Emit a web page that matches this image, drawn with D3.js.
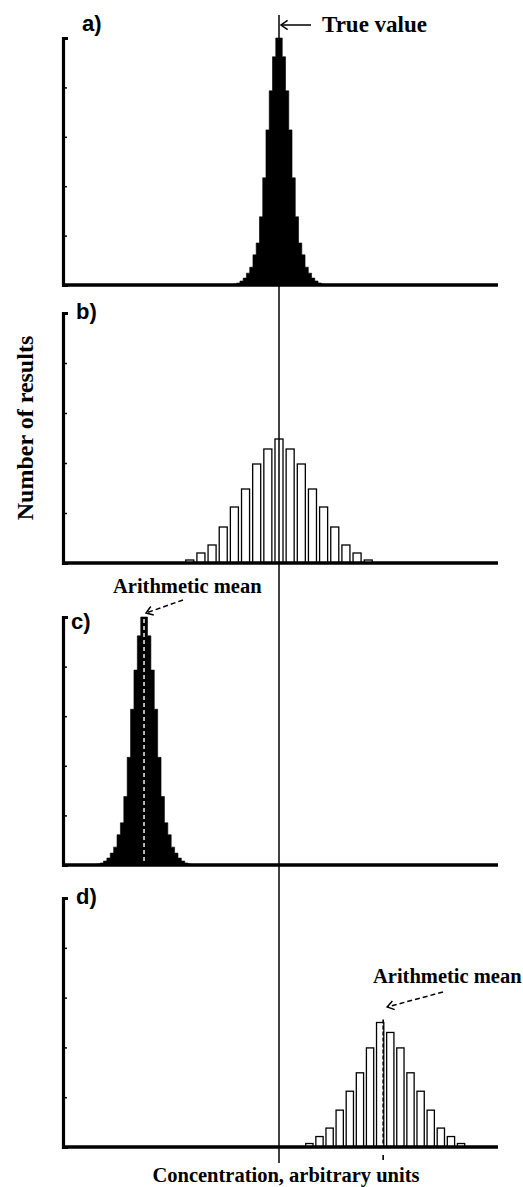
<!DOCTYPE html>
<html>
<head>
<meta charset="utf-8">
<title>Number of results vs concentration</title>
<script src="https://cdn.jsdelivr.net/npm/d3@7"></script>
<style>
body{margin:0;background:#fff;}
svg{display:block;}
</style>
</head>
<body>
<div id="chart"></div>
<script>
// concentration in arbitrary units, counts on a 0-50 scale
var trueValue = 50;

// a) narrow, centred on the true value
var aStart = 39.5, aBin = 0.75;
var aCounts = [0.2,0.4,0.8,1.4,2.4,3.6,6.1,8.5,13.8,21.7,31.4,39.3,46.2,50,
               50,46.2,39.3,31.4,21.7,13.8,8.5,6.1,3.6,2.4,1.4,0.8,0.4,0.2];

// b) wide, centred on the true value
var bStart = 29.44, bBin = 2.57;
var bCounts = [0.6,2,3.6,7.2,11.2,14.8,19.8,22.8,24.8,22.8,19.8,14.8,11.2,7.2,3.6,2,0.6];

// c) narrow, shifted low
var cStart = 8.0, cBin = 0.78, cMean = 18.9;
var cCounts = [0.2,0.4,0.8,1.4,2.4,3.6,6.1,8.5,13.8,21.7,31.4,39.3,46.2,50,
               50,46.2,39.3,31.4,21.7,13.8,8.5,6.1,3.6,2.4,1.4,0.8,0.4,0.2];

// d) wide, shifted high
var dStart = 57.0, dBin = 2.33, dMean = 74.0;
var dCounts = [0.7,2.1,3.8,7.4,11.2,14.9,19.9,25,23,19.9,14.9,11.2,7.4,3.8,2.1,0.7];

var yTicks = [10,20,30,40];
var panelLabels = ['a)','b)','c)','d)'];

var W = 523, H = 1187;
var svg = d3.select('#chart').append('svg')
  .attr('width', W)
  .attr('height', H);

var x = d3.scaleLinear().domain([0,100]).range([62,496]);

var panels = [
  {label:panelLabels[0], top:38,  base:285,  kind:'solid',   start:aStart, bin:aBin, counts:aCounts, lx:82, ly:31},
  {label:panelLabels[1], top:313, base:563,  kind:'outline', start:bStart, bin:bBin, counts:bCounts, lx:76, ly:319},
  {label:panelLabels[2], top:617, base:865,  kind:'solid',   start:cStart, bin:cBin, counts:cCounts, lx:71, ly:629, mean:cMean},
  {label:panelLabels[3], top:898, base:1147, kind:'outline', start:dStart, bin:dBin, counts:dCounts, lx:76, ly:904, mean:dMean}
];

panels.forEach(function(p){
  var y = d3.scaleLinear().domain([0,50]).range([p.base, p.top]);
  var g = svg.append('g');
  var binPx = x(p.bin) - x(0);

  if (p.kind === 'solid') {
    // touching bins drawn as one stepped black area
    var edges = p.counts.map(function(d,i){ return [p.start + i*p.bin, d]; });
    edges.push([p.start + p.counts.length*p.bin, p.counts[p.counts.length-1]]);
    var area = d3.area()
      .x(function(d){ return x(d[0]); })
      .y0(p.base)
      .y1(function(d){ return y(d[1]); })
      .curve(d3.curveStepAfter);
    g.append('path')
      .datum(edges)
      .attr('d', area)
      .attr('fill','#000')
      .attr('stroke','#000')
      .attr('stroke-width',0.6);
  } else {
    // separate open bars, start = centre of first bar
    var bw = binPx*0.72;
    g.selectAll('rect.bin')
      .data(p.counts)
      .enter()
      .append('rect')
      .attr('class','bin')
      .attr('x', function(d,i){ return x(p.start + i*p.bin) - bw/2; })
      .attr('y', function(d){ return y(d); })
      .attr('width', bw)
      .attr('height', function(d){ return p.base - y(d); })
      .attr('fill','#fff')
      .attr('stroke','#000')
      .attr('stroke-width',1.3);
  }

  // y axis: thick line, small inward ticks
  var yAxis = g.append('g')
    .attr('transform','translate(63,0)')
    .call(d3.axisRight(y).tickValues(yTicks).tickSize(4).tickSizeOuter(5).tickFormat(''));
  yAxis.select('.domain').attr('stroke','#000').attr('stroke-width',3.2);
  yAxis.selectAll('.tick line').attr('stroke','#000').attr('stroke-width',1.5);

  // baseline
  var xAxis = g.append('g')
    .attr('transform','translate(0,' + p.base + ')')
    .call(d3.axisBottom(x).tickValues([]).tickSizeOuter(0));
  xAxis.select('.domain').attr('stroke','#000').attr('stroke-width',3.5)
    .attr('d','M62,0H498');

  g.append('text')
    .attr('x', p.lx)
    .attr('y', p.ly)
    .attr('font-family','"Liberation Sans", Arial, sans-serif')
    .attr('font-weight','bold')
    .attr('font-size',22)
    .text(p.label);

  p.y = y;
});

// mean markers
var pc = panels[2], pd = panels[3];
svg.append('line')
  .attr('x1', x(cMean)).attr('x2', x(cMean))
  .attr('y1', pc.top + 2).attr('y2', pc.base - 2)
  .attr('stroke','#fff').attr('stroke-width',1.4)
  .attr('stroke-dasharray','4,3');

svg.append('line')
  .attr('x1', x(dMean)).attr('x2', x(dMean))
  .attr('y1', pd.y(25) - 3).attr('y2', pd.base)
  .attr('stroke','#000').attr('stroke-width',1.6)
  .attr('stroke-dasharray','4,2');
svg.append('line')
  .attr('x1', x(dMean)).attr('x2', x(dMean))
  .attr('y1', pd.base + 8).attr('y2', pd.base + 13)
  .attr('stroke','#000').attr('stroke-width',1.6);

// true value line through every panel
svg.append('line')
  .attr('x1', x(trueValue)).attr('x2', x(trueValue))
  .attr('y1', 15).attr('y2', 1163)
  .attr('stroke','#000').attr('stroke-width',1.5);

function arrow(x1, y1, x2, y2, dashed) {
  // line from (x1,y1) to tip (x2,y2) with an open head
  var ang = Math.atan2(y1 - y2, x1 - x2);
  var L = 8, s = 0.6;
  svg.append('line')
    .attr('x1',x1).attr('y1',y1).attr('x2',x2).attr('y2',y2)
    .attr('stroke','#000').attr('stroke-width',1.5)
    .attr('stroke-dasharray', dashed ? '5,3' : null);
  var p1 = [x2 + L*Math.cos(ang+s), y2 + L*Math.sin(ang+s)];
  var p2 = [x2 + L*Math.cos(ang-s), y2 + L*Math.sin(ang-s)];
  svg.append('path')
    .attr('d','M' + p1 + 'L' + [x2,y2] + 'L' + p2)
    .attr('fill','none').attr('stroke','#000').attr('stroke-width',1.5);
}

var serif = '"Liberation Serif", "Times New Roman", serif';

arrow(311, 25, x(trueValue) + 2, 25, false);
svg.append('text')
  .attr('x',322).attr('y',32)
  .attr('font-family',serif).attr('font-weight','bold').attr('font-size',23)
  .text('True value');

arrow(183, 600, x(cMean) + 2, 613, true);
svg.append('text')
  .attr('x',113).attr('y',593)
  .attr('font-family',serif).attr('font-weight','bold').attr('font-size',20.5)
  .text('Arithmetic mean');

arrow(443, 992, x(dMean) + 4, 1007, true);
svg.append('text')
  .attr('x',373).attr('y',983)
  .attr('font-family',serif).attr('font-weight','bold').attr('font-size',20.5)
  .text('Arithmetic mean');

svg.append('text')
  .attr('transform','translate(33,428) rotate(-90)')
  .attr('text-anchor','middle')
  .attr('font-family',serif).attr('font-weight','bold').attr('font-size',24)
  .text('Number of results');

svg.append('text')
  .attr('x',286).attr('y',1182)
  .attr('text-anchor','middle')
  .attr('font-family',serif).attr('font-weight','bold').attr('font-size',20.5)
  .text('Concentration, arbitrary units');
</script>
</body>
</html>
